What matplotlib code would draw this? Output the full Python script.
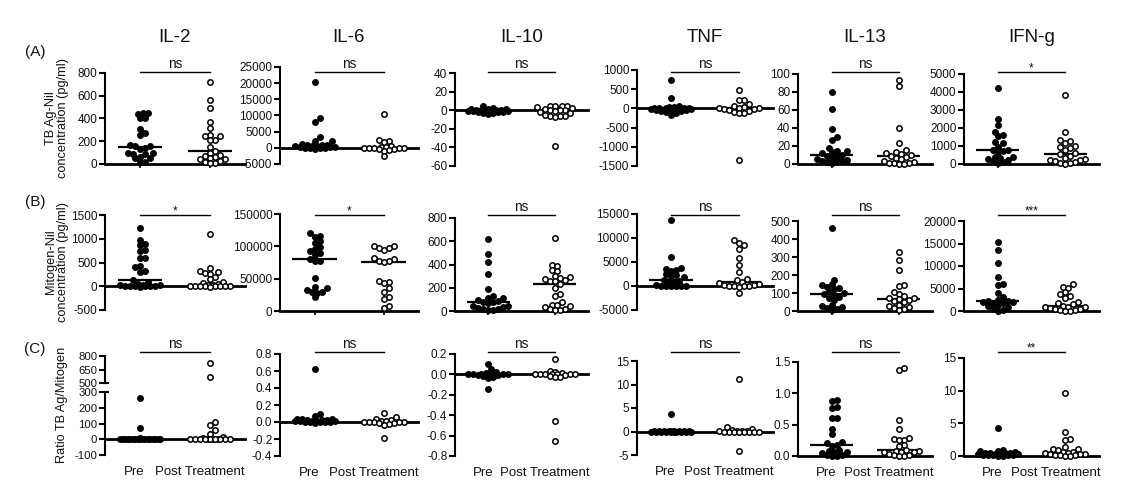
import numpy as np
import matplotlib
matplotlib.use('Agg')
import matplotlib.pyplot as plt
from matplotlib.transforms import blended_transform_factory

plt.rcParams['font.family'] = ['Liberation Sans', 'DejaVu Sans']
plt.rcParams['axes.unicode_minus'] = False

# ---------------- data ----------------
cytokines = ['IL-2', 'IL-6', 'IL-10', 'TNF', 'IL-13', 'IFN-g']
group_labels = ['Pre', 'Post Treatment']
row_labels = ['(A)', '(B)', '(C)']
row_ylabels = ['TB Ag-Nil\nconcentration (pg/ml)', 'Mitogen-Nil\nconcentration (pg/ml)', 'Ratio TB Ag/Mitogen']

# Row A : TB Ag - Nil
a_il2_pre = [450, 445, 440, 405, 400, 310, 270, 255, 170, 160, 155, 140, 135, 100, 95, 90, 85, 65, 55, 50, 20, 15]
a_il2_post = [725, 565, 495, 365, 320, 255, 250, 245, 215, 210, 150, 115, 100, 80, 70, 60, 50, 45, 40, 30, 20, 10, 5]
a_il6_pre = [20500, 9200, 8000, 3200, 2200, 2000, 1200, 1000, 900, 800, 700, 600, 500, 400, 300, 200, 100, 0, -200, -300, -100]
a_il6_post = [10400, 2300, 2000, 1900, 500, 300, 200, 100, 0, 0, -100, -200, -300, -500, -700, -900, -2600]
a_il10_pre = [5, 2, 1, 1, 0, 0, 0, 0, -1, -1, -1, -2, -2, -3, -3, -4, -1, 0, 1, -2]
a_il10_post = [5, 5, 4, 5, 3, 2, 1, 0, 0, 0, -1, -2, -3, -6, -6, -6, -5, -7, -39]
a_tnf_pre = [750, 260, 60, 40, 30, 20, 10, 0, 0, -10, -20, -30, -40, -50, -60, -80, -100, -120, -170, 10, 0]
a_tnf_post = [470, 220, 210, 120, 60, 30, 10, 0, 0, -10, -20, -40, -60, -90, -110, -130, -1350]
a_il13_pre = [80, 61, 39, 30, 27, 18, 14, 14, 13, 12, 10, 9, 8, 7, 6, 4, 3, 3, 2, 2, 1]
a_il13_post = [93, 87, 40, 23, 15, 13, 12, 11, 10, 9, 8, 7, 5, 3, 2, 1, 1, 1, 0, 0]
a_ifng_pre = [4250, 2520, 2150, 1800, 1600, 1550, 1200, 1150, 950, 800, 750, 700, 650, 400, 380, 350, 250, 200, 150, 100, 80]
a_ifng_post = [3850, 1780, 1350, 1300, 1150, 1000, 950, 900, 750, 600, 550, 450, 350, 250, 220, 200, 150, 100, 60, 40, 20]

# Row B : Mitogen - Nil
b_il2_pre = [1220, 980, 890, 870, 760, 740, 600, 590, 420, 400, 330, 310, 130, 100, 40, 30, 25, 20, 15, 10, 8, 0, 0, -10, 5]
b_il2_post = [1100, 380, 320, 300, 280, 260, 200, 150, 80, 60, 40, 30, 20, 10, 10, 0, 0, 0, 0, -10, 5, 15]
b_il6_pre = [121000, 116000, 115000, 108000, 105000, 99000, 96000, 93000, 90000, 87000, 80000, 78000, 77000, 51000, 37000, 35000, 33000, 30000, 29000, 28000, 21000]
b_il6_post = [101000, 100000, 98000, 97000, 95000, 82000, 80000, 78000, 77000, 76000, 47000, 45000, 43000, 36000, 30000, 21000, 19000, 8000, 5000]
b_il10_pre = [620, 490, 420, 320, 185, 125, 115, 110, 95, 85, 80, 75, 70, 45, 40, 35, 30, 20, 15, 10, 10]
b_il10_post = [630, 395, 385, 350, 340, 300, 295, 285, 275, 270, 260, 255, 235, 200, 145, 125, 80, 55, 48, 42, 35, 20, 15, 10, 8]
b_tnf_pre = [13800, 6000, 3800, 3600, 3400, 3100, 2500, 2200, 2000, 1800, 1150, 1100, 1000, 900, 200, 100, 50, 0, -50, -100, 0]
b_tnf_post = [9500, 9000, 8600, 7800, 5800, 4400, 3000, 1500, 1300, 800, 700, 500, 300, 200, 100, 0, 0, -100, -200, -1500]
b_il13_pre = [460, 175, 150, 145, 135, 130, 125, 110, 100, 95, 90, 80, 75, 60, 35, 30, 25, 15, 10, 5]
b_il13_post = [330, 285, 230, 145, 140, 105, 95, 85, 75, 70, 65, 60, 55, 50, 35, 30, 25, 15, 10, 5]
b_ifng_pre = [15300, 13600, 10600, 7600, 5900, 5800, 4000, 3200, 2500, 2300, 2200, 2000, 1900, 1800, 1700, 1300, 1100, 1000, 500, 200, 100]
b_ifng_post = [5900, 5400, 5200, 4200, 3800, 3300, 3000, 2000, 1800, 1500, 1050, 1000, 900, 800, 600, 500, 400, 300, 200, 100, 50]

# Row C : ratio TB Ag / Mitogen
c_il2_pre = [265, 72, 5, 4, 3, 3, 2, 2, 1, 1, 1, 0.5, 0.5, 0.3, 0.2, 0.1, 0, 0, 0, 0]
c_il2_post = [720, 565, 112, 90, 57, 36, 17, 5, 3, 2, 2, 1, 1, 0.5, 0.5, 0.2, 0.1, 0, 0, 0]
c_il6_pre = [0.62, 0.09, 0.07, 0.04, 0.03, 0.03, 0.02, 0.02, 0.02, 0.01, 0.01, 0.01, 0.01, 0.0, 0.0, 0.0, 0.0, -0.01, 0.005, 0.015]
c_il6_post = [0.11, 0.06, 0.04, 0.02, 0.01, 0.01, 0.0, 0.0, 0.0, 0.0, 0.0, -0.01, -0.01, -0.02, -0.03, -0.19]
c_il10_pre = [0.10, 0.05, 0.02, 0.01, 0.0, 0.0, 0.0, 0.0, 0.0, 0.0, -0.005, -0.01, -0.02, -0.03, -0.04, -0.14, 0.0, 0.0]
c_il10_post = [0.15, 0.03, 0.02, 0.01, 0.0, 0.0, 0.0, 0.0, 0.0, 0.0, 0.0, -0.01, -0.02, -0.03, -0.03, -0.46, -0.65]
c_tnf_pre = [3.7, 0.1, 0.05, 0.05, 0.03, 0.02, 0.02, 0.01, 0.01, 0.01, 0, 0, 0, 0, 0, 0, 0, 0, 0, -0.05]
c_tnf_post = [11.2, 1.0, 0.6, 0.4, 0.2, 0.1, 0.05, 0.02, 0, 0, 0, 0, 0, 0, -0.1, -0.2, -4.1]
c_il13_pre = [0.89, 0.88, 0.78, 0.77, 0.61, 0.60, 0.43, 0.35, 0.22, 0.21, 0.17, 0.16, 0.1, 0.08, 0.07, 0.06, 0.04, 0.02, 0.01, 0.0, 0.0]
c_il13_post = [1.41, 1.38, 0.58, 0.43, 0.28, 0.27, 0.26, 0.25, 0.17, 0.16, 0.09, 0.08, 0.08, 0.07, 0.07, 0.06, 0.03, 0.02, 0.01, 0.0, 0.0]
c_ifng_pre = [4.3, 0.9, 0.8, 0.7, 0.6, 0.5, 0.5, 0.4, 0.4, 0.35, 0.35, 0.3, 0.25, 0.2, 0.2, 0.15, 0.1, 0.1, 0.05, 0.05]
c_ifng_post = [9.7, 3.6, 2.6, 2.5, 1.4, 1.1, 1.0, 0.9, 0.6, 0.55, 0.45, 0.4, 0.35, 0.3, 0.25, 0.2, 0.1, 0.1, 0.05, 0.0]

sig_a = ['ns', 'ns', 'ns', 'ns', 'ns', '*']
sig_b = ['*', '*', 'ns', 'ns', 'ns', '***']
sig_c = ['ns', 'ns', 'ns', 'ns', 'ns', '**']

rows_data = [
    [(a_il2_pre, a_il2_post), (a_il6_pre, a_il6_post), (a_il10_pre, a_il10_post),
     (a_tnf_pre, a_tnf_post), (a_il13_pre, a_il13_post), (a_ifng_pre, a_ifng_post)],
    [(b_il2_pre, b_il2_post), (b_il6_pre, b_il6_post), (b_il10_pre, b_il10_post),
     (b_tnf_pre, b_tnf_post), (b_il13_pre, b_il13_post), (b_ifng_pre, b_ifng_post)],
    [(c_il2_pre, c_il2_post), (c_il6_pre, c_il6_post), (c_il10_pre, c_il10_post),
     (c_tnf_pre, c_tnf_post), (c_il13_pre, c_il13_post), (c_ifng_pre, c_ifng_post)],
]
rows_sig = [sig_a, sig_b, sig_c]

# ---------------- layout ----------------
W, H = 1148, 496
fig = plt.figure(figsize=(W / 100, H / 100), dpi=100)

col_x = [(105, 245), (280, 418), (455, 588), (637, 773), (798, 932), (964, 1099)]
# (top px, bottom px, ymin, ymax, step, decimals)
axcfg = [
    [(73, 164, 0, 800, 200, 0), (67, 164, -5000, 25000, 5000, 0), (73, 166, -60, 40, 20, 0),
     (70, 166, -1500, 1000, 500, 0), (74, 164, 0, 100, 20, 0), (74, 164, 0, 5000, 1000, 0)],
    [(215, 310, -500, 1500, 500, 0), (214, 311, 0, 150000, 50000, 0), (218, 311, 0, 800, 200, 0),
     (214, 310, -5000, 15000, 5000, 0), (221, 311, 0, 500, 100, 0), (221, 311, 0, 20000, 5000, 0)],
    [(392, 455, -100, 300, 100, 0), (354, 456, -0.4, 0.8, 0.2, 1), (354, 456, -0.8, 0.2, 0.2, 1),
     (361, 455, -5, 15, 5, 0), (362, 456, 0, 1.5, 0.5, 1), (358, 456, 0, 15, 5, 0)],
]
row_bar_px = [72, 215, 352]
title_y_px = 37
label_y_px = [52, 202, 349]
ylabel_y_px = [118, 262, 405]

TXT = '#111111'


def fmt_tick(v, dec):
    if abs(v) < 1e-9:
        v = 0.0
    return f'{v:.{dec}f}'


def style_ax(ax, ylim, ticks, dec, bottom=True, lsize=8.5):
    ax.set_xlim(-0.5, 1.5)
    ax.set_ylim(*ylim)
    ax.patch.set_visible(False)
    for s in ['top', 'right']:
        ax.spines[s].set_visible(False)
    ax.spines['left'].set_linewidth(1.5)
    if bottom:
        ax.spines['bottom'].set_position(('data', 0))
        ax.spines['bottom'].set_linewidth(2.0)
        ax.set_xticks([0, 1])
        ax.set_xticklabels([])
        ax.tick_params(axis='x', length=3, width=1.2)
    else:
        ax.spines['bottom'].set_visible(False)
        ax.set_xticks([])
    ax.set_yticks(ticks)
    ax.set_yticklabels([fmt_tick(v, dec) for v in ticks])
    ax.tick_params(axis='y', length=4, width=1.5, labelsize=lsize, pad=1.5, labelcolor=TXT)


def swarm(ax, vals, x, d=5.0, limit=22.0):
    vals = np.asarray(vals, float)
    pts = ax.transData.transform(np.column_stack([np.full(len(vals), x), vals]))
    ys = pts[:, 1]
    order = np.argsort(ys)
    step = d / 2.0
    cands = [0.0]
    k = 1
    while k * step <= limit:
        cands += [k * step, -k * step]
        k += 1
    px, py = [], []
    offs = np.zeros(len(vals))
    for i in order:
        choice = None
        best_c, best_ov = 0.0, 1e9
        for c in cands:
            if not px:
                choice = c
                break
            dist = np.hypot(np.array(px) - c, np.array(py) - ys[i]).min()
            if dist >= d:
                choice = c
                break
            if d - dist < best_ov:
                best_ov, best_c = d - dist, c
        if choice is None:
            choice = best_c
        px.append(choice)
        py.append(ys[i])
        offs[i] = choice
    wpx = ax.get_window_extent().width
    return offs * 2.0 / wpx


def draw_points(ax, vals, x, filled):
    vals = np.asarray(vals, float)
    if len(vals) == 0:
        return
    offs = swarm(ax, vals, x)
    ax.scatter(x + offs, vals, s=15, facecolors='k' if filled else 'white',
               edgecolors='k', linewidths=1.1, zorder=4, clip_on=False)


def draw_median(ax, vals, x):
    ax.plot([x - 0.32, x + 0.32], [np.median(vals)] * 2, color='k', lw=1.6, zorder=3,
            solid_capstyle='butt')


def sig_bar(ax, text, ypx):
    tr = blended_transform_factory(ax.transData, fig.transFigure)
    yf = 1 - ypx / H
    ax.plot([0, 1], [yf, yf], transform=tr, color='k', lw=1.0, clip_on=False)
    if text == 'ns':
        ax.text(0.5, yf + 4 / H, text, transform=tr, ha='center', va='baseline',
                fontsize=9.8, color=TXT)
    else:
        ax.text(0.5, yf + 0.5 / H, text, transform=tr, ha='center', va='baseline',
                fontsize=8.5, color=TXT)


def xlabels(ax):
    for x, lab, dx in [(0, group_labels[0], -4), (1, group_labels[1], -7)]:
        ax.annotate(lab, xy=(x, 0), xycoords=('data', 'axes fraction'),
                    xytext=(dx, -12.2), textcoords='offset points',
                    ha='center', va='center', fontsize=9.5, color=TXT)


for r in range(3):
    for c in range(6):
        top, bot, y0, y1, stp, dec = axcfg[r][c]
        x0, x1 = col_x[c]
        ax = fig.add_axes([x0 / W, 1 - bot / H, (x1 - x0) / W, (bot - top) / H])
        ticks = np.round(np.arange(y0, y1 + stp / 2, stp), 6)
        pre, post = rows_data[r][c]
        if r == 2 and c == 0:
            style_ax(ax, (y0, y1), ticks, dec, lsize=8.2)
            # broken axis: upper segment
            axt = fig.add_axes([x0 / W, 1 - 383 / H, (x1 - x0) / W, (383 - 356) / H])
            style_ax(axt, (500, 800), [500, 650, 800], 0, bottom=False, lsize=8.2)
            # small hooks at the break
            for a_, yy in [(axt, 0.0), (ax, 1.0)]:
                a_.plot([0, 0.025], [yy, yy], transform=a_.transAxes, color='k', lw=1.5,
                        clip_on=False, solid_capstyle='butt')
            pre_a = np.asarray(pre, float)
            post_a = np.asarray(post, float)
            draw_median(ax, pre_a, 0)
            draw_median(ax, post_a, 1)
            draw_points(ax, pre_a[pre_a <= 300], 0, True)
            draw_points(ax, post_a[post_a <= 300], 1, False)
            draw_points(axt, pre_a[pre_a > 300], 0, True)
            draw_points(axt, post_a[post_a > 300], 1, False)
        else:
            style_ax(ax, (y0, y1), ticks, dec)
            draw_median(ax, pre, 0)
            draw_median(ax, post, 1)
            draw_points(ax, pre, 0, True)
            draw_points(ax, post, 1, False)
        sig_bar(ax, rows_sig[r][c], row_bar_px[r])
        if r == 0:
            fig.text((x0 + x1) / 2 / W, 1 - title_y_px / H, cytokines[c], ha='center',
                     va='center', fontsize=13.5, color=TXT)
        if r == 2:
            xlabels(ax)

for r in range(3):
    fig.text(35 / W, 1 - label_y_px[r] / H, row_labels[r], ha='center', va='center',
             fontsize=11, color=TXT)
    xl = 57 / W if r < 2 else 62 / W
    fig.text(xl, 1 - ylabel_y_px[r] / H, row_ylabels[r], rotation=90, ha='center',
             va='center', fontsize=9.2, multialignment='center', linespacing=1.05, color=TXT)

fig.savefig('out.png', dpi=100)
